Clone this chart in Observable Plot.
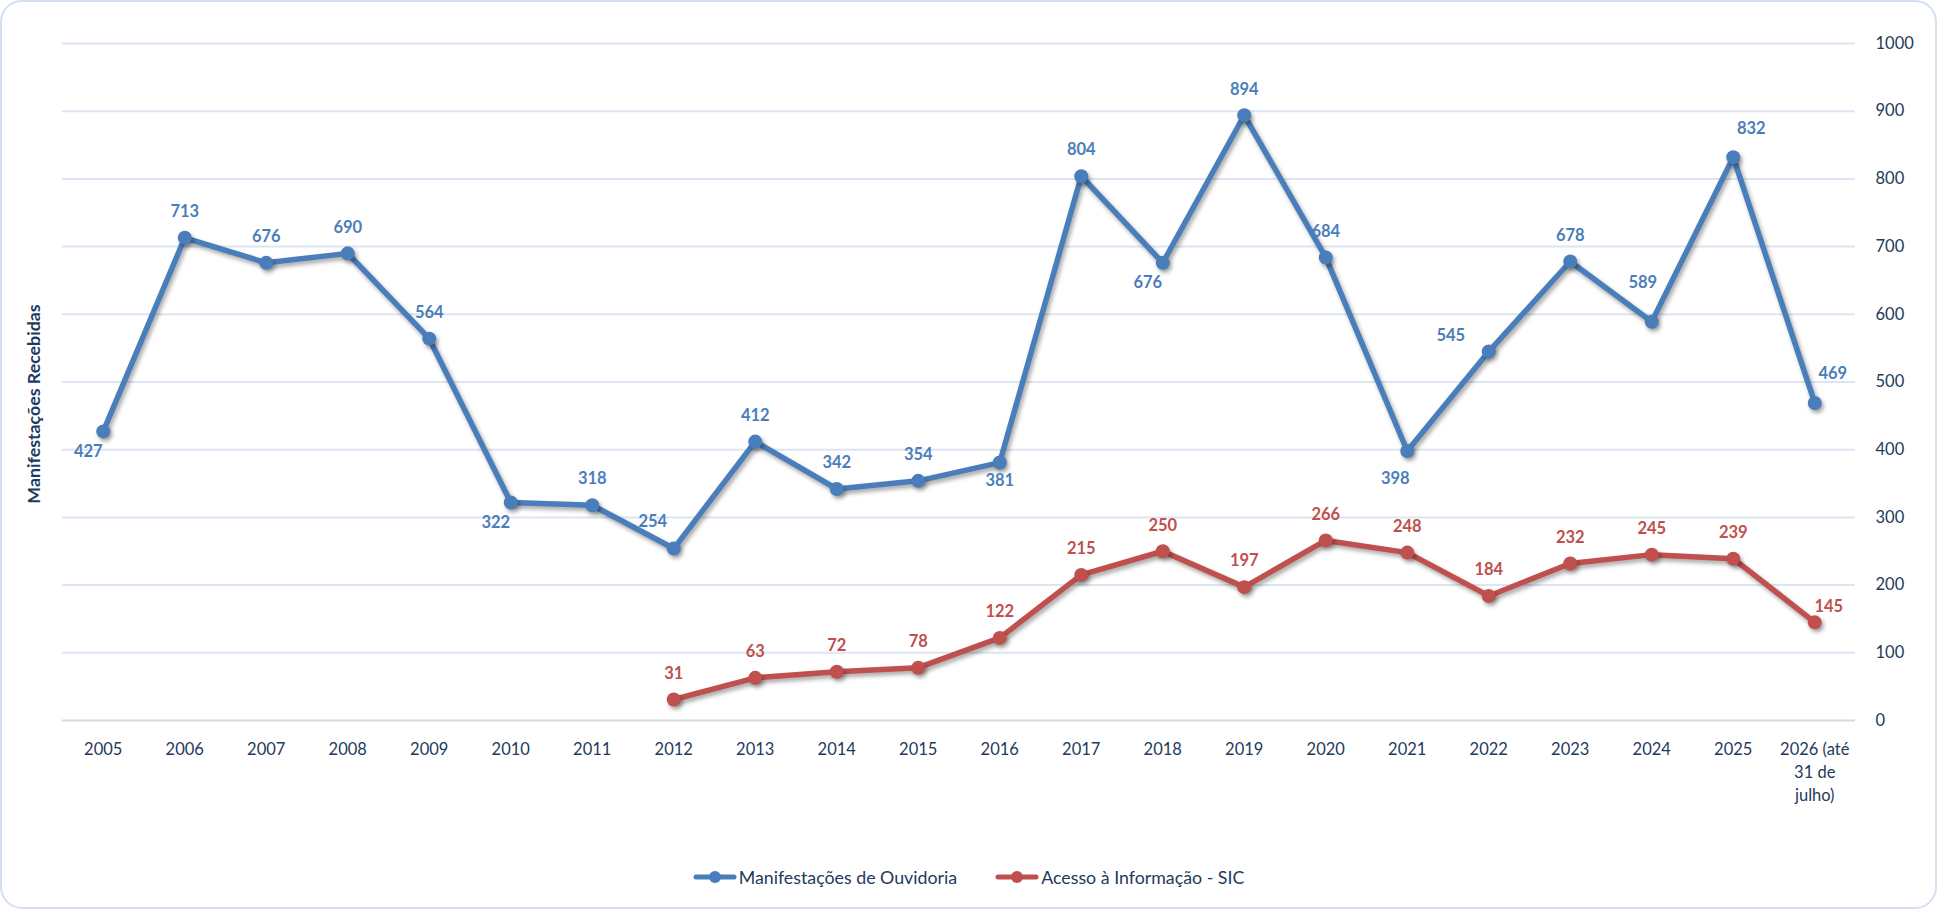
<!DOCTYPE html>
<html><head><meta charset="utf-8">
<script src="https://cdn.jsdelivr.net/npm/d3@7"></script>
<script src="https://cdn.jsdelivr.net/npm/@observablehq/plot@0.6"></script>
<style>
body{margin:0;background:#fff;font-family:Lato,"Open Sans",sans-serif;}
#frame{position:absolute;left:0;top:0;width:1937px;height:909px;box-sizing:border-box;border:2px solid #d5e0ee;border-radius:22px;}
#chart{position:absolute;left:0;top:0;}
#ytitle{position:absolute;left:33px;top:404px;transform:translate(-50%,-50%) rotate(-90deg);font-weight:700;font-size:17.8px;color:#1f3a5f;white-space:nowrap;}
#legend{position:absolute;top:877px;left:0;width:1937px;display:flex;justify-content:center;gap:38px;transform:translateY(-50%);font-size:17.8px;color:#243a5c;}
.item{display:flex;align-items:center;gap:2px;}
</style></head><body>
<div id="frame"></div>
<div id="chart"></div>
<div id="ytitle">Manifestações Recebidas</div>
<div id="legend"></div>
<script>
const years = ["2005","2006","2007","2008","2009","2010","2011","2012","2013","2014","2015","2016","2017","2018","2019","2020","2021","2022","2023","2024","2025","2026"];
const tickLabels = ["2005","2006","2007","2008","2009","2010","2011","2012","2013","2014","2015","2016","2017","2018","2019","2020","2021","2022","2023","2024","2025","2026 (até\n31 de\njulho)"];
const ouvidoria = [427,713,676,690,564,322,318,254,412,342,354,381,804,676,894,684,398,545,678,589,832,469];
const sic = [null,null,null,null,null,null,null,31,63,72,78,122,215,250,197,266,248,184,232,245,239,145];
const ouvidoriaLabelPos = ["bl","t","t","t","t","bl","t","tl","t","t","t","b","t","bl","t","t","bb","l","t","tt","tr","tr"];
const sicLabelPos = [null,null,null,null,null,null,null,"t","t","t","t","t","t","t","t","t","t","t","t","t","t","r"];
const yTicks = [0,100,200,300,400,500,600,700,800,900,1000];
const seriesNames = ["Manifestações de Ouvidoria","Acesso à Informação - SIC"];
const colors = ["#4a7ebb","#c0504d"];
const textColor = "#243a5c";

const offsets = {t:[0,-26], b:[0,18], bl:[-15,20], bb:[-12,28], tl:[-21,-27], tt:[-9,-39], l:[-38,-16], tr:[18,-29], r:[14,-16]};

const rows = [];
years.forEach((yr,i) => {
  rows.push({year: yr, value: ouvidoria[i], series: 0, pos: ouvidoriaLabelPos[i]});
  if (sic[i] != null) rows.push({year: yr, value: sic[i], series: 1, pos: sicLabelPos[i]});
});

const labelMarks = [];
for (const s of [0,1]) {
  for (const code of Object.keys(offsets)) {
    const sub = rows.filter(d => d.series === s && d.pos === code);
    if (!sub.length) continue;
    labelMarks.push(Plot.text(sub, {x:"year", y:"value", text: d => String(d.value), dx: offsets[code][0], dy: offsets[code][1], fill: colors[s], fontWeight: 700, fontSize: 16.5, lineAnchor: "middle"}));
  }
}

const chart = Plot.plot({
  width: 1937, height: 840,
  marginLeft: 62, marginRight: 82, marginTop: 43, marginBottom: 120,
  style: {fontFamily: "Lato, 'Open Sans', sans-serif", fontSize: "16.5px", color: textColor, background: "transparent", overflow: "visible"},
  x: {type: "point", domain: years, padding: 0.5, round: false, label: null},
  y: {domain: [0,1000], label: null},
  marks: [
    Plot.ruleY(yTicks.filter(v => v > 0), {stroke: "#dce6f2", strokeWidth: 2}),
    Plot.ruleY([0], {stroke: "#d9d9d9", strokeWidth: 2}),
    Plot.axisX({tickSize: 0, tickPadding: 18, lineHeight: 1.4, tickFormat: (d) => tickLabels[years.indexOf(d)], fill: textColor, label: null}),
    Plot.axisY({anchor: "right", ticks: yTicks, tickSize: 0, tickPadding: 20, tickFormat: d => String(d), fill: textColor, label: null}),
    ...[0,1].map(s => Plot.line(rows.filter(d => d.series === s), {x:"year", y:"value", stroke: colors[s], strokeWidth: 5.5, strokeLinejoin: "round", strokeLinecap: "round"})),
    ...[0,1].map(s => Plot.dot(rows.filter(d => d.series === s), {x:"year", y:"value", r: 7, fill: colors[s]})),
    ...labelMarks
  ]
});
d3.select(chart).selectAll("g[aria-label=line], g[aria-label=dot]").style("filter", "drop-shadow(2px 3px 2px rgba(0,0,0,0.35))");
document.getElementById("chart").appendChild(chart);

const legend = document.getElementById("legend");
seriesNames.forEach((name, s) => {
  const item = document.createElement("div");
  item.className = "item";
  item.innerHTML = `<svg width="44" height="16"><line x1="3" y1="8" x2="41" y2="8" stroke="${colors[s]}" stroke-width="5" stroke-linecap="round"/><circle cx="22" cy="8" r="6" fill="${colors[s]}"/></svg><span>${name}</span>`;
  legend.appendChild(item);
});
</script>
</body></html>
